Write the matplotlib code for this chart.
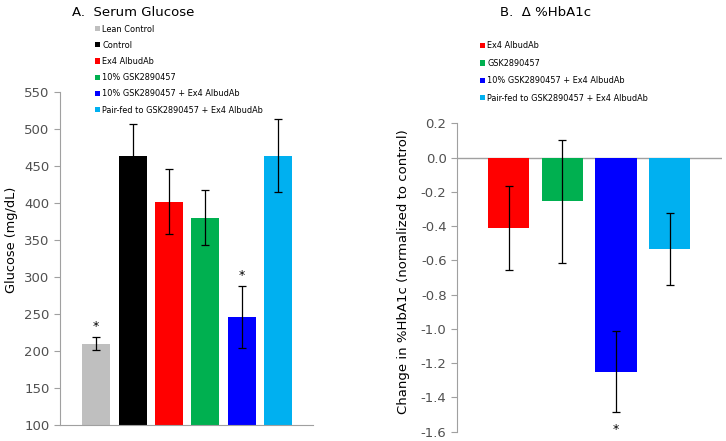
import matplotlib
matplotlib.use("Agg")
import matplotlib.pyplot as plt
import numpy as np

plt.rcParams['font.family'] = ['DejaVu Sans']
plt.rcParams['axes.unicode_minus'] = False

# ---- Data ----
glucose_groups = ["Lean Control", "Control", "Ex4 AlbudAb", "10% GSK2890457",
                  "10% GSK2890457 + Ex4 AlbudAb", "Pair-fed to GSK2890457 + Ex4 AlbudAb"]
glucose_mean = [210, 463, 402, 380, 246, 464]
glucose_err = [9, 44, 44, 37, 42, 49]
glucose_sig = [True, False, False, False, True, False]
glucose_colors = ["#BFBFBF", "#000000", "#FF0000", "#00B050", "#0000FF", "#00B0F0"]

hba1c_groups = ["Ex4 AlbudAb", "GSK2890457", "10% GSK2890457 + Ex4 AlbudAb",
                "Pair-fed to GSK2890457 + Ex4 AlbudAb"]
hba1c_mean = [-0.41, -0.255, -1.25, -0.535]
hba1c_err = [0.245, 0.36, 0.235, 0.21]
hba1c_sig = [False, False, True, False]
hba1c_colors = ["#FF0000", "#00B050", "#0000FF", "#00B0F0"]
hba1c_ticks = [-1.6, -1.4, -1.2, -1.0, -0.8, -0.6, -0.4, -0.2, 0.0, 0.2]

W, H = 726, 441
fig = plt.figure(figsize=(W/100, H/100), dpi=100)

tick_col = "#505050"
spine_col = "#A0A0A0"

# ---- Panel A ----
axA = fig.add_axes([60/W, 1-425/H, 253/W, 333/H])
xA = np.arange(len(glucose_mean))
barsA = axA.bar(xA, np.array(glucose_mean) - 100, bottom=100, width=0.77,
                color=glucose_colors, yerr=glucose_err, capsize=3,
                error_kw=dict(elinewidth=0.9, capthick=0.9, ecolor="black"))
for x, m, e, s in zip(xA, glucose_mean, glucose_err, glucose_sig):
    if s:
        axA.text(x, m + e + 14, "*", ha="center", va="center", fontsize=9)
axA.set_ylim(100, 550)
axA.set_xlim(-0.99, 5.95)
axA.set_yticks(np.arange(100, 551, 50))
axA.set_xticks([])
for sp in ["top", "right"]:
    axA.spines[sp].set_visible(False)
for sp in ["left", "bottom"]:
    axA.spines[sp].set_color(spine_col)
axA.tick_params(axis="y", colors=spine_col, labelcolor=tick_col, labelsize=9.5, length=4)
axA.set_ylabel("Glucose (mg/dL)", fontsize=9.3, color="black")
axA.yaxis.set_label_coords(-0.165, 0.555)

fig.text(72/W, 1-12/H, "A.  Serum Glucose", fontsize=9.5, va="center", ha="left")
fig.legend(barsA.patches, glucose_groups, loc="upper left",
           bbox_to_anchor=(95/W, 1-24.5/H), frameon=False, fontsize=5.9,
           handlelength=0.6, handleheight=0.6, handletextpad=0.3,
           labelspacing=0.88, borderpad=0, borderaxespad=0)

# ---- Panel B ----
axB = fig.add_axes([457/W, 1-431.7/H, 264.7/W, 308.4/H])
xB = np.arange(len(hba1c_mean))
barsB = axB.bar(xB, hba1c_mean, width=0.77, color=hba1c_colors,
                yerr=hba1c_err, capsize=3,
                error_kw=dict(elinewidth=0.9, capthick=0.9, ecolor="black"))
for x, m, e, s in zip(xB, hba1c_mean, hba1c_err, hba1c_sig):
    if s:
        axB.text(x, m - e - 0.1, "*", ha="center", va="center", fontsize=9)
axB.axhline(0, color=spine_col, lw=1, zorder=0.5)
axB.set_ylim(-1.6, 0.2)
axB.set_xlim(-0.96, 3.97)
axB.set_yticks(hba1c_ticks)
axB.set_yticklabels([f"{v:.1f}" for v in hba1c_ticks])
axB.set_xticks([])
for sp in ["top", "right", "bottom"]:
    axB.spines[sp].set_visible(False)
axB.spines["left"].set_color(spine_col)
axB.tick_params(axis="y", colors=spine_col, labelcolor=tick_col, labelsize=9.5, length=4)
axB.set_ylabel("Change in %HbA1c (normalized to control)", fontsize=9.5, color="black")
axB.yaxis.set_label_coords(-0.178, 0.52)

fig.text(500/W, 1-12/H, "B.  Δ %HbA1c", fontsize=9.5, va="center", ha="left")
fig.legend(barsB.patches, hba1c_groups, loc="upper left",
           bbox_to_anchor=(480/W, 1-41.5/H), frameon=False, fontsize=5.9,
           handlelength=0.6, handleheight=0.6, handletextpad=0.3,
           labelspacing=1.02, borderpad=0, borderaxespad=0)

fig.savefig("out.png", dpi=100)
